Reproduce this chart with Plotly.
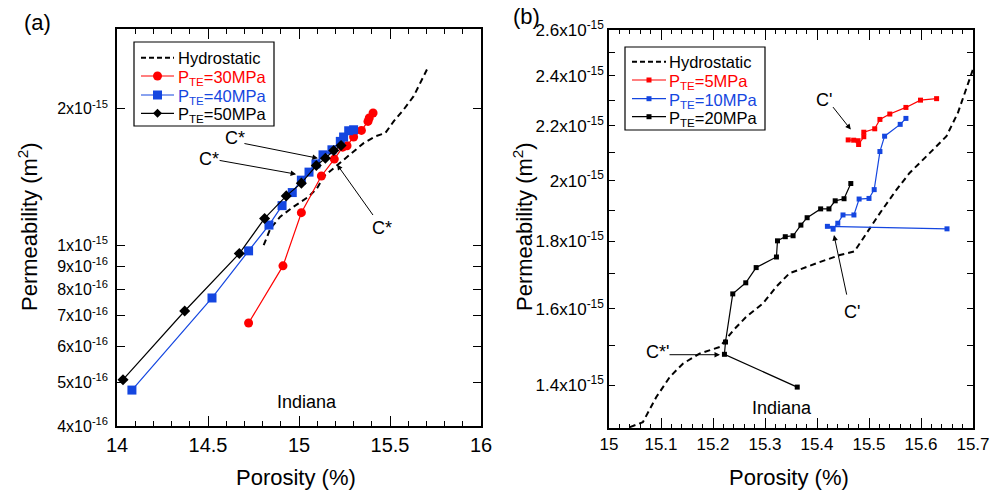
import plotly.graph_objects as go
import math

W, H = 1003, 491
FONT = "Liberation Sans, Arial, Helvetica, sans-serif"
RED = "#ff0000"
BLUE = "#1446e0"
BLACK = "#000000"

# ---------------- Panel (a) data ----------------
hyd_a_x = [14.806, 14.843, 14.897, 14.971, 15.053, 15.099, 15.136, 15.191, 15.245,
           15.300, 15.355, 15.419, 15.474, 15.520, 15.575, 15.630, 15.667, 15.703]
hyd_a_k = [1.002e-15, 1.090e-15, 1.157e-15, 1.218e-15, 1.281e-15, 1.337e-15, 1.419e-15,
           1.480e-15, 1.545e-15, 1.611e-15, 1.681e-15, 1.740e-15, 1.769e-15, 1.877e-15,
           1.993e-15, 2.133e-15, 2.283e-15, 2.443e-15]

p30_x = [14.723, 14.912, 15.013, 15.123, 15.194, 15.240, 15.264, 15.300, 15.343,
         15.379, 15.386, 15.407]
p30_k = [6.745e-16, 9.016e-16, 1.181e-15, 1.423e-15, 1.550e-15, 1.647e-15, 1.659e-15,
         1.734e-15, 1.793e-15, 1.877e-15, 1.910e-15, 1.959e-15]

p40_x = [14.082, 14.522, 14.723, 14.835, 14.907, 14.963, 15.013, 15.055, 15.093,
         15.132, 15.181, 15.227, 15.245, 15.273, 15.300]
p40_k = [4.80e-16, 7.66e-16, 9.73e-16, 1.109e-15, 1.224e-15, 1.308e-15, 1.393e-15,
         1.451e-15, 1.513e-15, 1.584e-15, 1.625e-15, 1.696e-15, 1.734e-15, 1.790e-15,
         1.799e-15]

p50_x = [14.033, 14.372, 14.672, 14.811, 14.930, 15.013, 15.095, 15.145, 15.191, 15.231]
p50_k = [5.06e-16, 7.17e-16, 9.60e-16, 1.147e-15, 1.286e-15, 1.372e-15, 1.500e-15,
         1.557e-15, 1.620e-15, 1.661e-15]

# ---------------- Panel (b) data ----------------
hyd_b_x = [15.040, 15.065, 15.091, 15.117, 15.142, 15.174, 15.213, 15.239, 15.264,
           15.296, 15.322, 15.347, 15.399, 15.444, 15.472, 15.495, 15.521, 15.553,
           15.578, 15.617, 15.649, 15.671, 15.687, 15.700]
hyd_b_k = [1.302e-15, 1.313e-15, 1.372e-15, 1.421e-15, 1.454e-15, 1.480e-15, 1.497e-15,
           1.541e-15, 1.578e-15, 1.615e-15, 1.663e-15, 1.702e-15, 1.732e-15, 1.757e-15,
           1.768e-15, 1.825e-15, 1.890e-15, 1.969e-15, 2.027e-15, 2.099e-15, 2.161e-15,
           2.251e-15, 2.345e-15, 2.428e-15]

p5_x = [15.460, 15.4705, 15.479, 15.480, 15.490, 15.490, 15.511, 15.521, 15.540,
        15.571, 15.599, 15.630]
p5_k = [2.147e-15, 2.146e-15, 2.144e-15, 2.130e-15, 2.159e-15, 2.176e-15, 2.189e-15,
        2.225e-15, 2.246e-15, 2.272e-15, 2.301e-15, 2.307e-15]

p10_x = [15.650, 15.420, 15.431, 15.440, 15.450, 15.471, 15.481, 15.500, 15.510,
         15.521, 15.530, 15.560, 15.571]
p10_k = [1.839e-15, 1.847e-15, 1.838e-15, 1.857e-15, 1.884e-15, 1.884e-15, 1.937e-15,
         1.939e-15, 1.969e-15, 2.104e-15, 2.161e-15, 2.206e-15, 2.229e-15]

p20_x = [15.362, 15.222, 15.224, 15.238, 15.263, 15.283, 15.322, 15.324, 15.339,
         15.354, 15.369, 15.381, 15.407, 15.423, 15.435, 15.452, 15.465]
p20_k = [1.396e-15, 1.478e-15, 1.510e-15, 1.642e-15, 1.674e-15, 1.719e-15, 1.751e-15,
         1.801e-15, 1.814e-15, 1.817e-15, 1.851e-15, 1.875e-15, 1.904e-15, 1.904e-15,
         1.931e-15, 1.938e-15, 1.990e-15]

# ---------------- tick labels ----------------
a_xtick_vals = [14, 14.5, 15, 15.5, 16]
a_xtick_text = ["14", "14.5", "15", "15.5", "16"]
a_ytick_vals = [4e-16, 5e-16, 6e-16, 7e-16, 8e-16, 9e-16, 1e-15, 2e-15]
a_ytick_text = ["4x10<sup>-16</sup>", "5x10<sup>-16</sup>", "6x10<sup>-16</sup>",
                "7x10<sup>-16</sup>", "8x10<sup>-16</sup>", "9x10<sup>-16</sup>",
                "1x10<sup>-15</sup>", "2x10<sup>-15</sup>"]
b_xtick_vals = [15, 15.1, 15.2, 15.3, 15.4, 15.5, 15.6, 15.7]
b_xtick_text = ["15", "15.1", "15.2", "15.3", "15.4", "15.5", "15.6", "15.7"]
b_ytick_vals = [1.4e-15, 1.5e-15, 1.6e-15, 1.7e-15, 1.8e-15, 1.9e-15, 2.0e-15,
                2.1e-15, 2.2e-15, 2.3e-15, 2.4e-15, 2.5e-15, 2.6e-15]
b_ytick_text = ["1.4x10<sup>-15</sup>", "", "1.6x10<sup>-15</sup>", "",
                "1.8x10<sup>-15</sup>", "", "2x10<sup>-15</sup>", "",
                "2.2x10<sup>-15</sup>", "", "2.4x10<sup>-15</sup>", "",
                "2.6x10<sup>-15</sup>"]

# legend labels
a_names = ["Hydrostatic", "30MPa", "40MPa", "50MPa"]
b_names = ["Hydrostatic", "5MPa", "10MPa", "20MPa"]


def px(x):
    return x / W


def py(y):
    return 1 - y / H


fig = go.Figure()

# panel (a)
fig.add_trace(go.Scatter(x=hyd_a_x, y=hyd_a_k, mode="lines", name=a_names[0],
                         line=dict(color=BLACK, width=2, dash="6px,4px"),
                         xaxis="x", yaxis="y"))
fig.add_trace(go.Scatter(x=p30_x, y=p30_k, mode="lines+markers", name=a_names[1],
                         line=dict(color=RED, width=1.2),
                         marker=dict(symbol="circle", size=9, color=RED),
                         xaxis="x", yaxis="y"))
fig.add_trace(go.Scatter(x=p40_x, y=p40_k, mode="lines+markers", name=a_names[2],
                         line=dict(color=BLUE, width=1.2),
                         marker=dict(symbol="square", size=9, color=BLUE),
                         xaxis="x", yaxis="y"))
fig.add_trace(go.Scatter(x=p50_x, y=p50_k, mode="lines+markers", name=a_names[3],
                         line=dict(color=BLACK, width=1.2),
                         marker=dict(symbol="diamond", size=8.5, color=BLACK),
                         xaxis="x", yaxis="y"))

# panel (b)
fig.add_trace(go.Scatter(x=hyd_b_x, y=hyd_b_k, mode="lines", name=b_names[0],
                         line=dict(color=BLACK, width=2, dash="6px,4px"),
                         xaxis="x2", yaxis="y2"))
fig.add_trace(go.Scatter(x=p5_x, y=p5_k, mode="lines+markers", name=b_names[1],
                         line=dict(color=RED, width=1.2),
                         marker=dict(symbol="square", size=5, color=RED),
                         xaxis="x2", yaxis="y2"))
fig.add_trace(go.Scatter(x=p10_x, y=p10_k, mode="lines+markers", name=b_names[2],
                         line=dict(color=BLUE, width=1.2),
                         marker=dict(symbol="square", size=5, color=BLUE),
                         xaxis="x2", yaxis="y2"))
fig.add_trace(go.Scatter(x=p20_x, y=p20_k, mode="lines+markers", name=b_names[3],
                         line=dict(color=BLACK, width=1.2),
                         marker=dict(symbol="square", size=5, color=BLACK),
                         xaxis="x2", yaxis="y2"))


def ax_style(**kw):
    d = dict(showline=True, linecolor="black", linewidth=1.5, mirror="allticks",
             ticks="inside", tickcolor="black", tickwidth=1, showgrid=False,
             zeroline=False, automargin=False, tickmode="array")
    d.update(kw)
    return d


fig.update_layout(
    width=W, height=H, margin=dict(l=0, r=0, t=0, b=0, autoexpand=False),
    paper_bgcolor="white", plot_bgcolor="white",
    font=dict(family=FONT, color="black", size=16),
    showlegend=False,
    xaxis=ax_style(domain=[px(117), px(481)], range=[14, 16], anchor="y",
                   tickvals=a_xtick_vals, ticktext=a_xtick_text, ticklen=10,
                   tickfont=dict(size=20),
                   minor=dict(dtick=0.1, ticklen=5, ticks="inside", tickcolor="black")),
    yaxis=ax_style(domain=[py(426), py(29)], type="log",
                   range=[math.log10(4e-16), math.log10(3e-15)], anchor="x",
                   tickvals=a_ytick_vals, ticktext=a_ytick_text, ticklen=8,
                   ticklabelstandoff=4, tickfont=dict(size=16)),
    xaxis2=ax_style(domain=[px(609), px(973)], range=[15, 15.7], anchor="y2",
                    tickvals=b_xtick_vals, ticktext=b_xtick_text, ticklen=10,
                    tickfont=dict(size=17),
                    minor=dict(dtick=0.02, ticklen=4, ticks="inside", tickcolor="black")),
    yaxis2=ax_style(domain=[py(428), py(30)], type="log",
                    range=[math.log10(1.3e-15), math.log10(2.6e-15)], anchor="x2",
                    tickvals=b_ytick_vals, ticktext=b_ytick_text, ticklen=6,
                    tickfont=dict(size=17)),
)

annots = []
shapes = []


def text(x, y, s, size=18, angle=0, anchor="center", color="black"):
    annots.append(dict(x=px(x), y=py(y), xref="paper", yref="paper", text=s,
                       showarrow=False, font=dict(size=size, color=color, family=FONT),
                       textangle=angle, xanchor=anchor, yanchor="middle"))


def arrow(xref, yref, x, k, ax, ay):
    annots.append(dict(x=x, y=math.log10(k), xref=xref, yref=yref, text="",
                       showarrow=True, axref="pixel", ayref="pixel", ax=ax, ay=ay,
                       arrowhead=2, arrowsize=1.1, arrowwidth=1, arrowcolor="black",
                       standoff=0, startstandoff=0))


def pline(x0, y0, x1, y1, color, width=1.2, dash="solid"):
    shapes.append(dict(type="line", xref="paper", yref="paper", x0=px(x0), y0=py(y0),
                       x1=px(x1), y1=py(y1), line=dict(color=color, width=width, dash=dash)))


def marker(cx, cy, sym, size, color):
    r = size / 2
    if sym == "circle":
        shapes.append(dict(type="circle", xref="paper", yref="paper",
                           x0=px(cx - r), x1=px(cx + r), y0=py(cy + r), y1=py(cy - r),
                           fillcolor=color, line=dict(width=0)))
    elif sym == "square":
        shapes.append(dict(type="rect", xref="paper", yref="paper",
                           x0=px(cx - r), x1=px(cx + r), y0=py(cy + r), y1=py(cy - r),
                           fillcolor=color, line=dict(width=0)))
    else:  # diamond
        path = (f"M {px(cx - r)},{py(cy)} L {px(cx)},{py(cy - r)} "
                f"L {px(cx + r)},{py(cy)} L {px(cx)},{py(cy + r)} Z")
        shapes.append(dict(type="path", xref="paper", yref="paper", path=path,
                           fillcolor=color, line=dict(width=0)))


def legend_box(x0, y0, x1, y1, rows, line_x0, line_x1, text_x, names, colors, syms, msize):
    shapes.append(dict(type="rect", xref="paper", yref="paper", x0=px(x0), x1=px(x1),
                       y0=py(y1), y1=py(y0), line=dict(color="black", width=1.2),
                       fillcolor="white", layer="above"))
    for ry, nm, col, sym in zip(rows, names, colors, syms):
        if sym is None:
            pline(line_x0, ry, line_x1, ry, col, width=2, dash="5px,3px")
            text(text_x, ry, nm, 16.5, anchor="left")
        else:
            pline(line_x0, ry, line_x1, ry, col)
            marker((line_x0 + line_x1) / 2, ry, sym, msize, col)
            text(text_x, ry + 2, f"P<sub>TE</sub>={nm}", 16.5, anchor="left", color=col)


# legends (drawn on top of the plot area)
legend_box(134, 42, 274, 126, [57.7, 76, 95, 113.3], 141, 174, 176,
           a_names, [BLACK, RED, BLUE, BLACK], [None, "circle", "square", "diamond"], 9)
legend_box(625, 47, 765, 130, [61.7, 80, 98.7, 116.7], 632, 666, 667,
           b_names, [BLACK, RED, BLUE, BLACK], [None, "square", "square", "square"], 5)

# panel labels and axis titles
text(37, 22, "(a)", 22)
text(526, 17, "(b)", 22)
text(296, 477, "Porosity (%)", 22)
text(789, 477, "Porosity (%)", 22)
text(28, 227, "Permeability (m<sup>2</sup>)", 22, -90)
text(523, 227, "Permeability (m<sup>2</sup>)", 22, -90)
text(307, 402, "Indiana", 18)
text(782, 408, "Indiana", 18)

# (a) C* annotations
text(235, 138, "C*", 18)
arrow("x", "y", 15.104, 1.557e-15, -75, -15)
text(209, 159, "C*", 18)
arrow("x", "y", 14.984, 1.436e-15, -78, -14)
text(382, 228, "C*", 18)
arrow("x", "y", 15.209, 1.508e-15, 37, 52)

# (b) annotations
text(824, 100, "C'", 18)
arrow("x2", "y2", 15.465, 2.186e-15, -19, -24)
text(852, 312, "C'", 18)
arrow("x2", "y2", 15.4327, 1.819e-15, 13, 61)
text(657, 352, "C*'", 18)
arrow("x2", "y2", 15.2135, 1.477e-15, -52, 0)

fig.update_layout(annotations=annots, shapes=shapes)

fig.write_html("out.html", config={"displayModeBar": False},
               post_script="document.body.style.margin='0';")
